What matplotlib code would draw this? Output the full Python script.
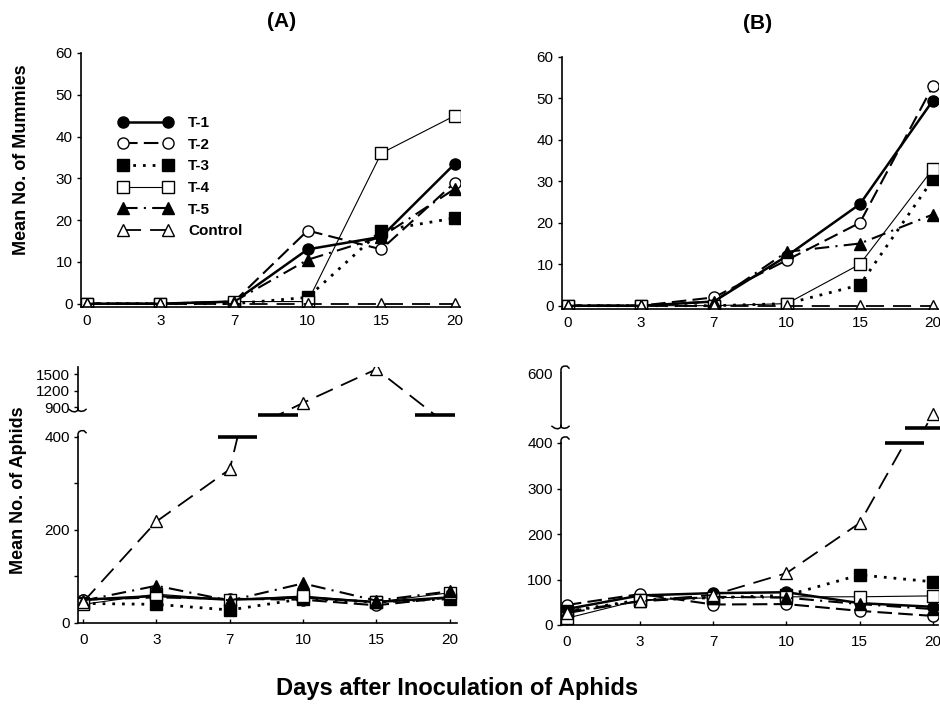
import matplotlib
matplotlib.use('Agg')
import matplotlib.pyplot as plt
import numpy as np
from matplotlib.lines import Line2D

plt.rcParams['font.family'] = ['Liberation Sans', 'DejaVu Sans']

days = ['0', '3', '7', '10', '15', '20']
series = ['T-1', 'T-2', 'T-3', 'T-4', 'T-5', 'Control']

# Mean no. of mummies, trial (A)
mum_a_t1 = [0, 0, 0.5, 13, 16, 33.5]
mum_a_t2 = [0, 0, 0.5, 17.5, 13, 29]
mum_a_t3 = [0, 0, 0, 1.5, 17.5, 20.5]
mum_a_t4 = [0, 0, 0.5, 0.5, 36, 45]
mum_a_t5 = [0, 0, 0.5, 10.5, 16, 27.5]
mum_a_ctrl = [0, 0, 0, 0, 0, 0]

# Mean no. of mummies, trial (B)
mum_b_t1 = [0, 0, 1, 12, 24.5, 49.5]
mum_b_t2 = [0, 0, 2, 11, 20, 53]
mum_b_t3 = [0, 0, 0, 0.5, 5, 30.5]
mum_b_t4 = [0, 0, 0, 0.5, 10, 33]
mum_b_t5 = [0, 0, 1, 13, 15, 22]
mum_b_ctrl = [0, 0, 0, 0, 0, 0]

# Mean no. of aphids, trial (A)
aph_a_t1 = [50, 58, 50, 55, 45, 55]
aph_a_t2 = [50, 55, 52, 50, 38, 55]
aph_a_t3 = [42, 40, 28, 52, 45, 52]
aph_a_t4 = [40, 62, 50, 58, 45, 65]
aph_a_t5 = [48, 80, 48, 85, 48, 68]
aph_a_ctrl = [45, 218, 330, 980, 1590, 553]

# Mean no. of aphids, trial (B)
aph_b_t1 = [35, 65, 70, 72, 48, 40]
aph_b_t2 = [44, 68, 45, 46, 31, 20]
aph_b_t3 = [30, 55, 60, 65, 110, 95]
aph_b_t4 = [15, 55, 60, 62, 62, 64]
aph_b_t5 = [30, 52, 62, 60, 46, 35]
aph_b_ctrl = [26, 53, 66, 114, 224, 510]

styles = {
    'T-1': dict(marker='o', mfc='black', ls='-', lw=1.8),
    'T-2': dict(marker='o', mfc='white', ls=(0, (7, 3)), lw=1.5),
    'T-3': dict(marker='s', mfc='black', ls=(0, (1, 2.5)), lw=2.0),
    'T-4': dict(marker='s', mfc='white', ls='-', lw=0.8),
    'T-5': dict(marker='^', mfc='black', ls=(0, (7, 3, 1, 3)), lw=1.5),
    'Control': dict(marker='^', mfc='white', ls=(0, (10, 5)), lw=1.3),
}

x = np.arange(len(days))
W, H = 940, 704
fig = plt.figure(figsize=(W / 100, H / 100), dpi=100)


def draw(ax, data, names):
    for name, vals in zip(names, data):
        st = styles[name]
        ax.plot(x, vals, color='black', linestyle=st['ls'], lw=st['lw'],
                marker=st['marker'], ms=8, mfc=st['mfc'], mec='black',
                mew=1.0, label=name)


def style_axes(ax, xpad):
    for s in ['top', 'right']:
        ax.spines[s].set_visible(False)
    for s in ['left', 'bottom']:
        ax.spines[s].set_linewidth(1.2)
    ax.tick_params(axis='y', direction='out', length=3, width=1, labelsize=11, pad=3)
    ax.tick_params(axis='x', direction='in', length=3, width=1, labelsize=11, pad=xpad)
    ax.set_xticks(x)
    ax.set_xticklabels(days)
    ax.set_xlim(-0.08, 5.07)


def curl(ax, pts, at):
    # small hand-drawn brace mark at an axes corner, pts in pixels
    bb = ax.get_position()
    px = np.array(pts, dtype=float)
    xs = at[0] + px[:, 0] / (bb.width * W)
    ys = at[1] + px[:, 1] / (bb.height * H)
    ax.plot(xs, ys, color='black', lw=1.1, transform=ax.transAxes, clip_on=False)


def crossings(vals, level):
    out = []
    for i in range(len(vals) - 1):
        a, b = vals[i], vals[i + 1]
        if (a - level) * (b - level) < 0:
            out.append(i + (level - a) / (b - a))
    return out


def break_bars(ax, vals, level):
    for c in crossings(vals, level):
        ax.plot([c - 0.27, c + 0.27], [level, level], color='black', lw=2.6,
                solid_capstyle='butt', clip_on=False)


hook_up = [(0, 0), (0, 3), (1, 5), (3, 6), (6, 6), (8, 4)]
hook_down = [(-9, -1), (-6, -3), (-3, -3.5), (0, -2), (0, 0)]
hook_tail = [(0, -2), (3, -3), (6, -2.5), (8, -1)]

# ---- top panels: mummies ----
ax1 = fig.add_axes([81 / W, 1 - 307 / H, 379 / W, 254 / H])
draw(ax1, [mum_a_t1, mum_a_t2, mum_a_t3, mum_a_t4, mum_a_t5, mum_a_ctrl], series)
style_axes(ax1, 5)
ax1.set_ylim(-0.8, 60)
ax1.set_yticks(range(0, 61, 10))
ax1.set_title('(A)', fontsize=15, fontweight='bold', pad=19, x=0.53)

handles = [Line2D([], [], color='black', linestyle=styles[n]['ls'], lw=styles[n]['lw'],
                  marker=styles[n]['marker'], ms=8, mfc=styles[n]['mfc'], mec='black')
           for n in series]
ax1.legend(handles, series, loc='upper left', bbox_to_anchor=(0.099, 0.752),
           frameon=False, numpoints=2, handlelength=3.55, handletextpad=1.0,
           labelspacing=0.5, borderpad=0, borderaxespad=0,
           prop=dict(size=11, weight='bold'))

ax2 = fig.add_axes([562 / W, 1 - 309 / H, 376 / W, 252 / H])
draw(ax2, [mum_b_t1, mum_b_t2, mum_b_t3, mum_b_t4, mum_b_t5, mum_b_ctrl], series)
style_axes(ax2, 5)
ax2.set_ylim(-0.8, 60)
ax2.set_yticks(range(0, 61, 10))
ax2.set_title('(B)', fontsize=15, fontweight='bold', pad=20, x=0.52)

# ---- bottom panels: aphids (broken y axis) ----
ax3 = fig.add_axes([78 / W, 1 - 623 / H, 379 / W, 186.3 / H])
draw(ax3, [aph_a_t1, aph_a_t2, aph_a_t3, aph_a_t4, aph_a_t5, aph_a_ctrl], series)
style_axes(ax3, 7)
ax3.set_xlim(-0.07, 5.1)
ax3.set_ylim(0, 400)
ax3.set_yticks([0, 200, 400])
ax3.set_yticks([100, 300], minor=True)
ax3.tick_params(which='minor', direction='out', length=3, width=1)
break_bars(ax3, aph_a_ctrl, 400)
curl(ax3, hook_up, (0, 1))

ax3u = fig.add_axes([78 / W, 1 - 415 / H, 379 / W, 48 / H])
ax3u.plot(x, aph_a_ctrl, color='black', linestyle=styles['Control']['ls'],
          lw=styles['Control']['lw'], marker='^', ms=8, mfc='white', mec='black')
ax3u.set_xlim(-0.07, 5.1)
ax3u.set_ylim(760, 1630)
ax3u.set_yticks([900, 1200, 1500])
for s in ['top', 'right', 'bottom']:
    ax3u.spines[s].set_visible(False)
ax3u.spines['left'].set_linewidth(1.2)
ax3u.spines['left'].set_bounds(880, 1630)
ax3u.tick_params(direction='out', length=3, width=1, labelsize=11, pad=3)
ax3u.set_xticks([])
break_bars(ax3u, aph_a_ctrl, 760)
curl(ax3u, hook_down + hook_tail, (0, (880 - 760) / 870))

ax4 = fig.add_axes([561 / W, 1 - 625 / H, 377 / W, 182 / H])
draw(ax4, [aph_b_t1, aph_b_t2, aph_b_t3, aph_b_t4, aph_b_t5, aph_b_ctrl], series)
style_axes(ax4, 7)
ax4.set_ylim(0, 400)
ax4.set_yticks(range(0, 401, 100))
break_bars(ax4, aph_b_ctrl, 400)
curl(ax4, hook_up, (0, 1))

ax4u = fig.add_axes([561 / W, 1 - 428.5 / H, 377 / W, 56.4 / H])
ax4u.plot(x, aph_b_ctrl, color='black', linestyle=styles['Control']['ls'],
          lw=styles['Control']['lw'], marker='^', ms=8, mfc='white', mec='black')
ax4u.set_xlim(-0.08, 5.07)
ax4u.set_ylim(478, 602)
ax4u.set_yticks([600])
for s in ['top', 'right', 'bottom']:
    ax4u.spines[s].set_visible(False)
ax4u.spines['left'].set_linewidth(1.2)
ax4u.spines['left'].set_bounds(485, 600)
ax4u.tick_params(direction='out', length=0, width=1, labelsize=11, pad=6)
ax4u.set_xticks([])
break_bars(ax4u, aph_b_ctrl, 478)
curl(ax4u, hook_down + hook_tail, (0, (485 - 478) / 124))
curl(ax4u, hook_up, (0, 1))

fig.text(22 / W, 1 - 160 / H, 'Mean No. of Mummies', rotation=90, ha='center',
         va='center', fontsize=13, fontweight='bold')
fig.text(19 / W, 1 - 490 / H, 'Mean No. of Aphids', rotation=90, ha='center',
         va='center', fontsize=13, fontweight='bold')
fig.text(457 / W, 1 - 689 / H, 'Days after Inoculation of Aphids', ha='center',
         va='center', fontsize=17, fontweight='bold')

fig.savefig('out.png', dpi=100)
